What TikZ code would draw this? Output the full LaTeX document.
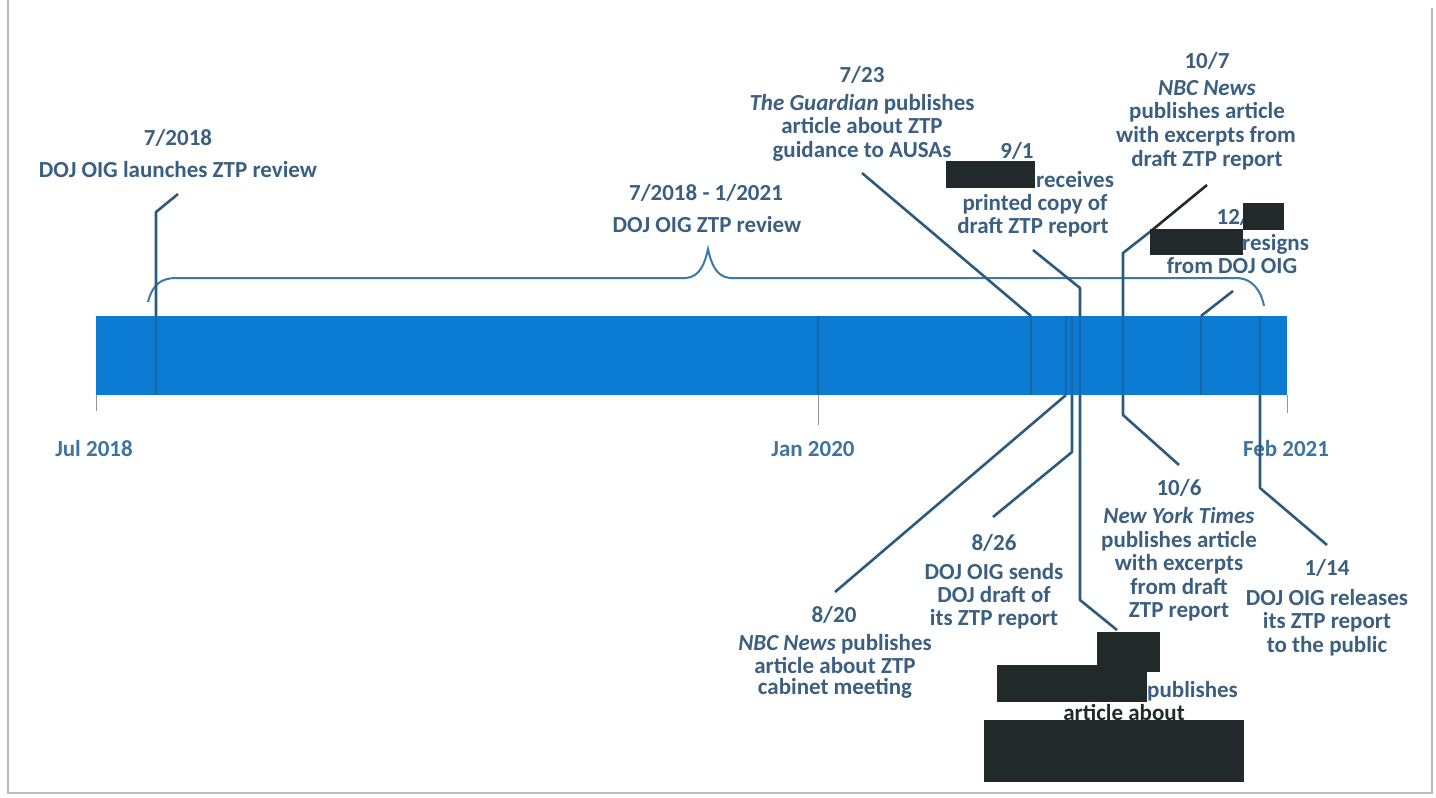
\documentclass[tikz,border=0pt]{standalone}
\usepackage{fontspec}
\setmainfont{Carlito}
\definecolor{txt}{HTML}{3B5F80}
\definecolor{axt}{HTML}{3E74A0}
\definecolor{conn}{HTML}{2C5A7C}
\definecolor{barc}{HTML}{0B7BD3}
\definecolor{barl}{HTML}{1A66A6}
\definecolor{bracec}{HTML}{3A7AAA}
\definecolor{redc}{HTML}{22292B}
\definecolor{framec}{HTML}{BCBCBC}
\tikzset{
  lbl/.style={inner sep=0pt, text=txt, font=\fontsize{23}{25}\selectfont\bfseries, anchor=base},
  axl/.style={lbl, text=axt},
  conn/.style={draw=conn, line width=2.6pt, line join=round},
  bracel/.style={draw=bracec, line width=2pt},
  redact/.style={fill=redc, draw=none},
  barbox/.style={fill=barc, draw=none, minimum width=1191pt, minimum height=79pt, inner sep=0pt, anchor=north west},
  inbar/.style={draw=barl, line width=1.1pt},
  tick/.style={draw=framec!80!black, line width=1pt},
}
\begin{document}
\begin{tikzpicture}[x=1pt,y=-1pt]
\useasboundingbox (0,0) rectangle (1436,798);
% frame
\draw[framec, line width=2pt] (8,0) -- (8,793) -- (1432,793) -- (1432,8);
% bar
\node[barbox] (bar) at (96,316) {};
\foreach \xx in {156,818,1031,1066,1072,1080,1123,1201,1260}
  \draw[inbar] (\xx,316) -- (\xx,395);
% ticks
\draw[tick] (96,395) -- (96,411);
\draw[tick] (818,395) -- (818,425);
\draw[tick] (1287,395) -- (1287,413);
% axis labels
\node[axl] (ax1) at (94,456) {Jul 2018};
\node[axl] (ax2) at (813,456) {Jan 2020};
\node[axl] (ax3) at (1286,456) {Feb 2021};
% brace
\draw[bracel] (148,302) .. controls (152,286) and (160,278) .. (176,278)
  -- (686,278) .. controls (700,277) and (705,263) .. (708,249)
  .. controls (711,263) and (716,277) .. (730,278)
  -- (1238,278) .. controls (1252,279) and (1261,290) .. (1264,306);
\node[lbl] (br1) at (706,200) {7/2018 - 1/2021};
\node[lbl] (br2) at (707,232) {DOJ OIG ZTP review};
% coordinates
\coordinate (e1b) at (156,316); \coordinate (e1k) at (156,212); \coordinate (e1t) at (178,194);
\coordinate (e2b) at (1031,316); \coordinate (e2t) at (862,173);
\coordinate (e3b) at (1080,316); \coordinate (e3k) at (1080,288); \coordinate (e3t) at (1033,250);
\coordinate (e4b) at (1123,316); \coordinate (e4k) at (1123,253); \coordinate (e4m) at (1151,231); \coordinate (e4t) at (1207,185);
\coordinate (e5b) at (1201,316); \coordinate (e5t) at (1233,291);
\coordinate (e6b) at (1066,395); \coordinate (e6t) at (835,592);
\coordinate (e7b) at (1072,395); \coordinate (e7k) at (1072,452); \coordinate (e7t) at (993,517);
\coordinate (e8b) at (1080,395); \coordinate (e8k) at (1080,600); \coordinate (e8t) at (1117,630);
\coordinate (e9b) at (1123,395); \coordinate (e9k) at (1123,415); \coordinate (e9t) at (1179,465);
\coordinate (e10b) at (1260,395); \coordinate (e10k) at (1260,488); \coordinate (e10t) at (1327,545);
% connectors
\draw[conn] (e1b) -- (e1k) -- (e1t);
\draw[conn] (e2b) -- (e2t);
\draw[conn] (e3b) -- (e3k) -- (e3t);
\draw[conn] (e4b) -- (e4k) -- (e4m);
\draw[conn, draw=redc] (e4m) -- (e4t);
\draw[conn] (e5b) -- (e5t);
\draw[conn] (e6b) -- (e6t);
\draw[conn] (e7b) -- (e7k) -- (e7t);
\draw[conn] (e8b) -- (e8k) -- (e8t);
\draw[conn] (e9b) -- (e9k) -- (e9t);
\draw[conn] (e10b) -- (e10k) -- (e10t);
% 7/2018
\node[lbl] (a1) at (178,145) {7/2018};
\node[lbl] (a2) at (178,177) {DOJ OIG launches ZTP review};
% 7/23
\node[lbl] (b1) at (862,82) {7/23};
\node[lbl] (b2) at (862,110) {\textit{The Guardian} publishes};
\node[lbl] (b3) at (862,133) {article about ZTP};
\node[lbl] (b4) at (862,157) {guidance to AUSAs};
% 9/1
\node[lbl] (c1) at (1017,158) {9/1};
\node[lbl, anchor=base west] (c2) at (1036,187) {receives};
\node[lbl] (c3) at (1035,210) {printed copy of};
\node[lbl] (c4) at (1033,233) {draft ZTP report};
% 10/7
\node[lbl] (d1) at (1207,68) {10/7};
\node[lbl] (d2) at (1207,95) {\textit{NBC News}};
\node[lbl] (d3) at (1207,118) {publishes article};
\node[lbl] (d4) at (1206,142) {with excerpts from};
\node[lbl] (d5) at (1207,166) {draft ZTP report};
% 12/
\node[lbl, anchor=base east] (f1) at (1250,224) {12/};
\node[lbl, anchor=base west] (f2) at (1242,250) {resigns};
\node[lbl] (f3) at (1232,273) {from DOJ OIG};
% 8/20
\node[lbl] (g1) at (834,622) {8/20};
\node[lbl] (g2) at (835,650) {\textit{NBC News} publishes};
\node[lbl] (g3) at (835,673) {article about ZTP};
\node[lbl] (g4) at (835,694) {cabinet meeting};
% 8/26
\node[lbl] (h1) at (994,550) {8/26};
\node[lbl] (h2) at (994,579) {DOJ OIG sends};
\node[lbl] (h3) at (994,602) {DOJ draft of};
\node[lbl] (h4) at (994,625) {its ZTP report};
% 10/6
\node[lbl] (i1) at (1179,495) {10/6};
\node[lbl] (i2) at (1179,523) {\textit{New York Times}};
\node[lbl] (i3) at (1179,547) {publishes article};
\node[lbl] (i4) at (1179,570) {with excerpts};
\node[lbl] (i5) at (1179,594) {from draft};
\node[lbl] (i6) at (1179,617) {ZTP report};
% 1/14
\node[lbl] (j1) at (1327,575) {1/14};
\node[lbl] (j2) at (1327,605) {DOJ OIG releases};
\node[lbl] (j3) at (1327,628) {its ZTP report};
\node[lbl] (j4) at (1327,652) {to the public};
% redacted event
\node[lbl, anchor=base west] (k1) at (1147,697) {publishes};
\node[lbl, text=redc] (k2) at (1124,720) {article about};
% redactions
\fill[redact] (946,161) rectangle (1035,188);
\fill[redact] (1243,203) rectangle (1284,230);
\fill[redact] (1150,229) rectangle (1243,255);
\fill[redact] (1097,632) rectangle (1160,672);
\fill[redact] (997,665) rectangle (1147,702);
\fill[redact] (984,720) rectangle (1244,782);
\end{tikzpicture}
\end{document}
